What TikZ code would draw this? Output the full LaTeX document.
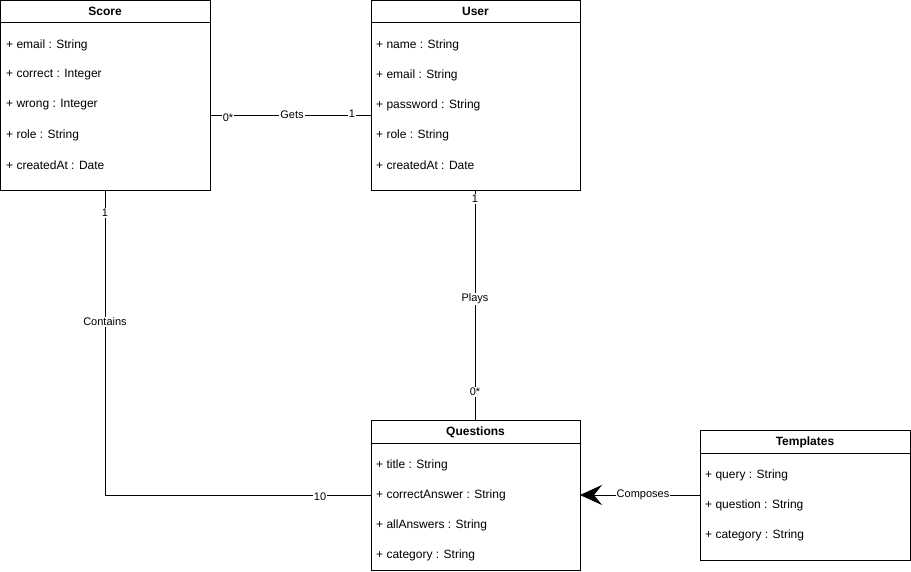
\documentclass[tikz,border=0pt]{standalone}
\usepackage{fontspec}
\setmainfont{Liberation Sans}
\usetikzlibrary{arrows.meta,positioning}
\tikzset{
  cls/.style={draw, line width=0.8pt, anchor=north west, inner sep=0pt},
  head/.style={font=\fontsize{12}{14}\selectfont\bfseries},
  attr/.style={anchor=west, font=\fontsize{12}{14}\selectfont, inner sep=0pt},
  lbl/.style={fill=white, inner sep=1pt, font=\fontsize{11}{13}\selectfont},
  link/.style={line width=0.8pt}
}
\begin{document}
\begin{tikzpicture}[x=1pt,y=-1pt]
\useasboundingbox (0,0) rectangle (911,571);
% class boxes
\node (score) [cls, minimum width=210, minimum height=190] at (0,0) {};
\node (user) [cls, minimum width=209, minimum height=190] at (371,0) {};
\node (quest) [cls, minimum width=209, minimum height=150] at (371,420) {};
\node (templ) [cls, minimum width=210, minimum height=130] at (700,430) {};
% headers
\draw [link] (0,22) -- (210,22);
\draw [link] (371,22) -- (580,22);
\draw [link] (371,443) -- (580,443);
\draw [link] (700,453) -- (910,453);
\node (scoreH) [head] at (105,11) {Score};
\node (userH) [head] at (475.5,11) {User};
\node (questH) [head] at (475.5,432) {Questions};
\node (templH) [head] at (805,442) {Templates};
% attributes
\foreach \t [count=\i] in {email : String, correct : Integer, wrong : Integer, role : String, createdAt : Date}
  \node [attr] at (6,15+30*\i) {+ \t};
\foreach \t [count=\i] in {name : String, email : String, password : String, role : String, createdAt : Date}
  \node [attr] at (376,15+30*\i) {+ \t};
\foreach \t [count=\i] in {title : String, correctAnswer : String, allAnswers : String, category : String}
  \node [attr] at (376,435+30*\i) {+ \t};
\foreach \t [count=\i] in {query : String, question : String, category : String}
  \node [attr] at (705,445+30*\i) {+ \t};
% connector ends
\coordinate (gA) at (210,115);
\coordinate (gB) at (371,115);
\coordinate (pA) at (475,190);
\coordinate (pB) at (475,420);
\coordinate (cA) at (105,190);
\coordinate (cB) at (371,495);
\coordinate (kA) at (700,495);
\coordinate (kB) at (580,495);
% connectors
\draw [link] (gA) -- (gB);
\node [lbl] at (292,115) {Gets};
\node [lbl] at (228,118) {0*};
\node [lbl] at (352,114) {1};
\draw [link] (pA) -- (pB);
\node [lbl] at (475,299) {Plays};
\node [lbl] at (475,199) {1};
\node [lbl] at (475,392) {0*};
\draw [link] (cA) |- (cB);
\node [lbl] at (105,322) {Contains};
\node [lbl] at (105,213) {1};
\node [lbl] at (320,497) {10};
\draw [link, -{Stealth[length=22, width=20, inset=8]}] (kA) -- (kB);
\node [lbl] at (643,495) {Composes};
\end{tikzpicture}
\end{document}
